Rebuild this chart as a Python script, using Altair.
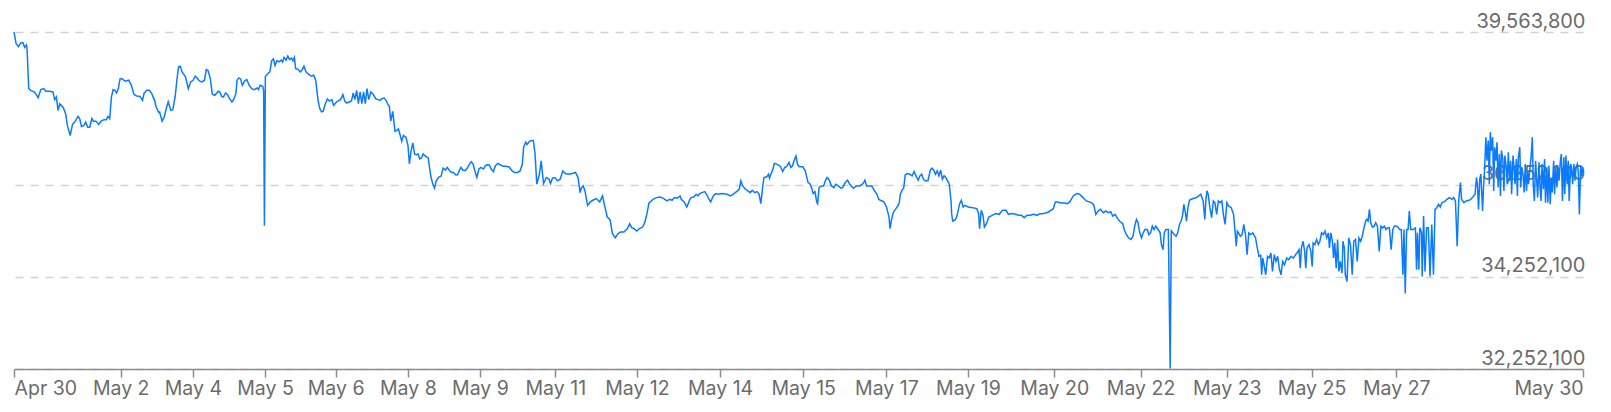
import altair as alt
import pandas as pd

# sample number along the x axis (0 = first observation, 1000 = last)
sample_index = [
    0, 1.3, 2.9, 4.4, 5.7, 6.8, 7.9, 8.3, 9.4, 11.0, 12.7, 13.8, 15.4, 17.1, 18.9, 20.4, 22.6, 24.8, 25.9, 27.0,
    28.1, 29.2, 31.4, 32.9, 34.0, 35.8, 37.3, 39.1, 40.8, 41.9, 43.0, 44.6, 45.7, 47.0, 48.3, 49.6, 50.7, 52.2, 54.0, 55.5,
    57.3, 58.8, 59.9, 61.0, 62.1, 63.2, 64.3, 65.4, 66.5, 67.6, 68.7, 70.9, 73.1, 74.8, 76.4, 78.1, 80.3, 81.9, 83.0, 84.7,
    86.3, 87.8, 89.6, 90.6, 92.2, 92.8, 94.4, 95.7, 97.2, 98.3, 99.9, 101.2, 102.7, 103.8, 104.9, 106.0, 107.1, 109.3, 111.1, 112.6,
    114.1, 115.5, 117.0, 118.1, 119.8, 121.4, 122.5, 123.6, 125.1, 126.4, 128.0, 130.2, 131.3, 132.4, 133.5, 134.8, 136.1, 137.4, 138.9, 140.0,
    141.4, 142.2, 143.3, 144.4, 145.5, 147.1, 148.4, 149.9, 151.5, 153.2, 155.0, 155.8, 156.9, 158.5, 159.1, 159.6, 160.2, 160.9, 161.9, 163.1,
    164.2, 165.3, 166.4, 167.5, 169.0, 170.3, 171.2, 172.1, 173.4, 174.5, 175.6, 176.9, 177.8, 178.7, 179.5, 181.1, 182.4, 183.5, 184.8, 186.1,
    187.7, 189.4, 191.0, 192.3, 193.8, 194.9, 196.0, 197.1, 198.2, 199.7, 201.1, 202.6, 203.7, 205.0, 206.3, 208.1, 209.6, 210.9, 212.0, 213.6,
    215.1, 216.2, 217.3, 218.4, 219.5, 220.6, 221.7, 222.8, 223.9, 225.0, 226.1, 227.4, 228.9, 230.5, 231.8, 233.3, 234.4, 236.0, 237.1, 238.4,
    239.2, 240.1, 241.4, 242.8, 243.9, 245.0, 246.0, 247.1, 248.2, 249.8, 251.1, 252.0, 253.1, 254.2, 255.3, 256.4, 257.5, 258.6, 259.7, 260.8,
    261.8, 264.0, 265.6, 266.9, 268.0, 269.1, 270.6, 272.2, 273.5, 275.0, 276.1, 277.7, 278.8, 280.1, 281.6, 282.7, 283.8, 284.9, 286.0, 287.5,
    288.9, 290.4, 291.5, 292.6, 293.7, 295.0, 296.3, 297.6, 299.2, 300.3, 301.4, 302.9, 304.2, 305.5, 306.8, 308.4, 310.1, 311.7, 313.4, 315.6,
    317.4, 318.9, 321.1, 322.6, 324.0, 324.8, 326.2, 327.0, 328.4, 329.9, 331.0, 332.1, 333.2, 334.9,
    336.0, 337.5, 339.3, 341.0, 341.9, 343.2, 344.8, 346.3, 348.1, 349.8, 351.4, 353.6, 355.8, 357.9, 359.5, 360.8, 361.7, 362.8, 363.9, 365.0,
    365.6, 367.4, 368.9, 371.1, 373.3, 375.1, 376.6, 378.1, 379.9, 381.4, 383.2, 384.9, 386.5, 388.7, 390.9, 392.4, 393.7, 395.3, 396.8, 398.6,
    400.7, 402.1, 403.4, 404.7, 405.6, 406.2, 407.3, 409.5, 411.7, 413.9, 416.1, 417.9, 419.4, 420.9, 422.7, 424.5, 425.3, 427.1, 428.8, 429.7,
    430.8, 431.5, 433.2, 434.8, 435.9, 437.0, 438.5, 440.3, 441.4, 442.4, 444.0, 445.7, 447.3, 449.0, 451.2, 454.5, 456.7, 458.9, 461.1, 462.2,
    463.3, 464.4, 466.2, 467.7, 469.2, 470.5, 472.1, 473.6, 474.9, 476.0, 477.1, 478.0, 479.8, 480.9, 481.5, 482.4, 483.7, 484.6, 486.3, 488.5,
    489.9, 491.2, 492.5, 494.0, 495.1, 496.2, 497.3, 498.4, 499.5, 500.6, 502.8, 504.3, 506.1, 507.2, 508.3, 509.4, 510.5, 511.6, 512.2, 513.1,
    514.4, 516.0, 517.1, 518.2, 519.3, 521.0, 522.6, 523.7, 525.4, 527.0, 528.1, 529.8, 531.3, 532.4, 533.5, 535.1, 536.8, 539.0, 541.2, 542.3,
    543.4, 545.2, 546.7, 548.2, 550.0, 551.1, 552.2, 554.4, 556.1, 557.7, 558.3, 559.2, 560.5, 562.1, 563.6, 564.3, 564.9, 565.8, 567.1, 568.0,
    569.3, 570.9, 572.4, 573.7, 575.2, 576.3, 577.4, 578.5, 579.6, 580.7, 582.5, 584.0, 585.1, 586.2, 587.3, 588.4, 589.5, 590.6, 591.7, 592.8,
    593.9, 595.0, 596.1, 597.2, 597.6, 598.3, 600.0, 601.1, 602.7, 603.8, 604.9, 606.0, 608.2, 611.0, 613.7, 614.8, 615.4, 616.5, 617.6, 618.5,
    619.8, 621.3, 623.5, 625.7, 627.9, 630.1, 632.3, 633.8, 636.0, 638.2, 640.4, 642.2, 643.9, 645.5, 647.7, 649.9, 652.1, 653.6, 655.4, 657.6,
    659.3, 660.8, 662.4, 663.7, 665.2, 667.4, 669.6, 671.2, 672.9, 675.1, 677.3,
    679.1, 681.3, 683.4, 686.7, 688.2, 689.5, 691.0, 692.5, 694.2, 695.9, 697.4, 699.0, 700.3, 701.8, 703.3, 705.0, 706.7, 707.6, 708.9, 710.4,
    711.9, 713.2, 714.3, 715.4, 716.4, 717.5, 718.6, 719.7, 720.8, 722.3, 723.3, 724.4, 725.5, 726.6, 727.7, 729.2, 730.5, 731.3, 732.4, 733.1,
    734.1, 735.7, 736.9, 737.6, 739.5, 740.6, 741.7, 742.8, 743.9, 744.9, 745.6, 746.4, 747.3, 748.2, 749.2, 750.3, 752.1, 753.6, 755.1, 756.4,
    757.9, 759.0, 759.6, 760.3, 761.1, 762.2, 763.3, 764.4, 765.4, 766.5, 767.6, 768.7, 769.8, 770.8, 771.9, 773.0, 774.1, 775.8, 777.3, 778.4,
    779.0, 779.7, 780.5, 781.6, 782.7, 783.8, 784.9, 785.9, 787.0, 788.1, 789.6, 791.3, 792.4, 793.5, 794.6, 795.2, 795.9, 796.7, 797.8, 798.9,
    800.0, 801.1, 802.1, 803.2, 804.3, 805.4, 806.4, 807.5, 808.6, 809.7, 811.2, 812.5, 814.0, 815.5, 816.8, 817.7, 819.0, 819.8, 820.5, 821.6,
    822.6, 823.3, 824.1, 825.4, 826.5, 827.4, 828.0, 829.1, 830.2, 831.3, 832.3, 833.4, 834.5, 835.6, 836.7, 837.7, 838.4, 839.3, 840.3, 841.0,
    841.8, 842.7, 843.6, 844.4, 845.3, 846.4, 847.0, 847.9, 848.5, 849.6, 850.7, 851.8, 852.9, 853.9, 855.0, 856.1, 857.2, 858.3, 859.3, 860.4,
    861.5, 862.1, 863.0, 863.9, 864.7, 865.8, 866.9, 867.9, 869.0, 870.1, 871.2, 872.3, 873.4, 874.4, 875.5, 876.6, 877.7, 878.8, 879.8, 880.9,
    882.0, 883.1, 884.2, 885.2, 885.9, 886.7, 887.6, 888.5, 889.3, 890.2, 891.7, 893.2, 893.9, 894.5, 895.4, 896.0, 897.1, 897.5, 898.4, 899.3,
    900.3, 901.4, 902.5, 903.6, 904.7, 905.7, 906.8, 907.9, 909.0, 910.1, 911.8, 913.3, 914.8, 916.5, 917.6, 918.7, 919.8, 920.8, 921.9, 922.6,
    924.1, 925.6, 927.3, 928.4, 929.5, 931.2, 932.1, 932.7, 933.4, 934.2, 934.9, 936.0, 936.6, 937.3, 938.1, 938.8, 939.6, 940.3, 940.9, 941.6,
    942.4, 943.1, 943.7, 944.6, 945.2, 945.9, 946.7, 947.4, 948.0, 948.9, 949.6, 950.2, 951.1, 951.7, 952.4, 953.2, 953.9, 954.5, 955.4, 956.0,
    956.7, 957.5, 958.2, 958.8, 959.7, 960.3, 961.0, 961.9, 962.5, 963.2, 964.0, 964.7, 965.3, 966.2, 967.0, 967.7, 968.3, 969.0, 969.8, 970.5,
    971.1, 972.0, 972.6, 973.3, 973.9, 974.8, 975.5, 976.1, 977.0, 977.6, 978.3, 979.1, 979.8, 980.4, 981.3, 981.9, 982.6, 983.4, 984.1, 984.7,
    985.6, 986.2, 986.9, 987.8, 988.4, 989.1, 989.9, 990.6, 991.2, 992.1, 992.7, 993.4, 994.2, 994.9, 995.5, 996.4, 997.0, 997.7, 998.5, 999.2,
    1000.0,
]

price = [
    39564000, 39317000, 39244000, 39331000, 39331000, 39230000, 39281000, 39208000, 38335000, 38285000, 38270000, 38226000, 38139000, 38314000, 38335000, 38277000, 38277000, 38263000, 38096000, 38154000,
    37863000, 38008000, 37921000, 37790000, 37536000, 37318000, 37558000, 37630000, 37732000, 37681000, 37514000, 37536000, 37608000, 37499000, 37499000, 37688000, 37630000, 37630000, 37558000, 37630000,
    37659000, 37659000, 37732000, 37681000, 38154000, 38314000, 38299000, 38241000, 38335000, 38546000, 38554000, 38495000, 38517000, 38408000, 38212000, 38176000, 38168000, 38081000, 38241000, 38299000,
    38299000, 38226000, 38081000, 37936000, 37819000, 37827000, 37630000, 37717000, 37921000, 38052000, 37863000, 37877000, 38154000, 38517000, 38808000, 38823000, 38699000, 38590000, 38335000, 38481000,
    38517000, 38604000, 38554000, 38503000, 38481000, 38517000, 38750000, 38735000, 38554000, 38212000, 38190000, 38277000, 38255000, 38168000, 38154000, 38241000, 38205000, 38117000, 38045000, 38096000,
    38226000, 38517000, 38568000, 38546000, 38408000, 38503000, 38532000, 38408000, 38335000, 38314000, 38350000, 38314000, 38408000, 38386000, 38300000, 35360000, 38600000, 38626000, 38663000, 38699000,
    38939000, 38982000, 38837000, 38939000, 38917000, 38953000, 38910000, 39012000, 38953000, 39041000, 38968000, 38997000, 38939000, 39012000, 38772000, 38750000, 38699000, 38735000, 38823000, 38699000,
    38648000, 38604000, 38626000, 38517000, 38081000, 37899000, 37834000, 37848000, 37986000, 38110000, 38066000, 38096000, 37972000, 38023000, 38066000, 38096000, 38205000, 38059000, 38023000, 38045000,
    38066000, 38241000, 38096000, 38299000, 38008000, 38263000, 38008000, 38263000, 38008000, 38335000, 38096000, 38263000, 38212000, 38117000, 38096000, 38081000, 38117000, 38132000, 38081000, 37986000,
    37950000, 37630000, 37841000, 37412000, 37427000, 37463000, 37339000, 37194000, 37318000, 37281000, 37100000, 36700000, 36990000, 37158000, 36918000, 36903000, 36918000, 36809000, 36831000, 36918000,
    36881000, 36831000, 36445000, 36263000, 36176000, 36336000, 36409000, 36438000, 36612000, 36569000, 36627000, 36554000, 36518000, 36518000, 36460000, 36467000, 36554000, 36627000, 36569000, 36554000,
    36612000, 36700000, 36751000, 36700000, 36554000, 36409000, 36591000, 36627000, 36591000, 36656000, 36685000, 36678000, 36591000, 36532000, 36663000, 36714000, 36678000, 36649000, 36649000, 36634000,
    36554000, 36518000, 36518000, 36554000, 36700000, 37063000, 37172000, 37121000, 37187000, 37209000, 37209000, 36918000, 36263000, 36482000,
    36769000, 36276000, 36406000, 36370000, 36276000, 36392000, 36406000, 36334000, 36370000, 36551000, 36493000, 36479000, 36493000, 36515000, 36406000, 36079000, 36188000, 36225000, 36116000, 35913000,
    35804000, 35877000, 35913000, 35950000, 35877000, 36007000, 35768000, 35550000, 35492000, 35187000, 35100000, 35187000, 35223000, 35223000, 35296000, 35405000, 35318000, 35296000, 35245000, 35296000,
    35332000, 35441000, 35623000, 35855000, 35877000, 35898000, 35934000, 35971000, 35985000, 35956000, 35898000, 35934000, 35913000, 35971000, 35956000, 36007000, 35934000, 35877000, 35768000, 35840000,
    35934000, 35971000, 35985000, 36043000, 36007000, 36058000, 36079000, 36101000, 36043000, 35971000, 35877000, 36007000, 36058000, 36043000, 36058000, 36043000, 36007000, 36058000, 36116000, 36152000,
    36334000, 36225000, 36152000, 36116000, 36079000, 36130000, 36079000, 36101000, 36043000, 35840000, 36188000, 36406000, 36421000, 36479000, 36392000, 36479000, 36588000, 36711000, 36697000, 36646000,
    36537000, 36624000, 36646000, 36733000, 36624000, 36660000, 36784000, 36871000, 36682000, 36639000, 36639000, 36551000, 36297000, 36276000, 36188000, 36058000, 36101000, 35877000, 35840000, 36188000,
    36225000, 36225000, 36334000, 36406000, 36370000, 36225000, 36188000, 36261000, 36225000, 36174000, 36188000, 36297000, 36348000, 36276000, 36225000, 36174000, 36225000, 36225000, 36276000, 36348000,
    36225000, 36225000, 36225000, 36130000, 36043000, 35934000, 35913000, 35877000, 35768000, 35550000, 35296000, 35477000, 35659000, 35731000, 35804000, 35877000, 36043000, 36116000, 36188000, 36464000,
    36493000, 36479000, 36443000, 36537000, 36421000, 36348000, 36443000, 36479000, 36370000, 36334000, 36334000, 36566000, 36610000, 36566000, 36479000, 36551000, 36443000, 36566000, 36370000, 36443000,
    36406000, 36334000, 36261000, 35898000, 35623000, 35463000, 35492000, 35586000, 35840000, 35913000, 35768000, 35804000, 35768000, 35753000, 35731000, 35623000, 35296000, 35695000, 35586000, 35332000,
    35405000, 35550000, 35586000, 35623000, 35608000, 35695000, 35695000, 35608000, 35623000, 35608000, 35586000, 35586000, 35535000, 35586000, 35586000, 35608000, 35586000, 35623000, 35623000, 35637000,
    35659000, 35695000, 35731000, 35877000, 35877000, 35855000, 35855000, 35840000, 35877000, 36007000, 36058000,
    36044000, 35971000, 35898000, 35862000, 35811000, 35607000, 35680000, 35716000, 35643000, 35680000, 35643000, 35665000, 35570000, 35607000, 35519000, 35446000, 35403000, 35279000, 35170000, 35097000,
    35061000, 35133000, 35352000, 35498000, 35425000, 35206000, 35097000, 35206000, 35279000, 35279000, 35170000, 35206000, 35352000, 35279000, 35352000, 35279000, 35206000, 34951000, 34842000, 35206000,
    35279000, 35279000, 32262000, 35250000, 35170000, 35133000, 35206000, 35388000, 35461000, 35607000, 35825000, 35680000, 35461000, 35752000, 35912000, 35934000, 35956000, 35971000, 36007000, 36044000,
    35898000, 35498000, 35898000, 36117000, 36044000, 35752000, 35534000, 35898000, 35862000, 35607000, 35898000, 35862000, 35898000, 35607000, 35388000, 35862000, 35789000, 35752000, 35607000, 35170000,
    34915000, 35243000, 35206000, 35133000, 35170000, 35388000, 35170000, 34733000, 35206000, 35170000, 35206000, 35097000, 34878000, 34696000, 34718000, 34296000, 34660000, 34514000, 34296000, 34696000,
    34660000, 34769000, 34368000, 34733000, 34587000, 34696000, 34441000, 34296000, 34587000, 34514000, 34660000, 34623000, 34696000, 34660000, 34733000, 34769000, 34842000, 34441000, 34878000, 35024000,
    34805000, 34441000, 34878000, 34951000, 34805000, 34478000, 34988000, 34951000, 35061000, 34951000, 35024000, 35206000, 35170000, 35243000, 35097000, 35206000, 34878000, 35206000, 35024000, 34660000,
    34988000, 34441000, 35061000, 34368000, 34587000, 34332000, 35024000, 34878000, 34296000, 34150000, 35097000, 34951000, 34296000, 35024000, 35061000, 34587000, 35097000, 35024000, 35133000, 35315000,
    35461000, 35498000, 35461000, 35716000, 35425000, 35330000, 35352000, 35425000, 35352000, 34805000, 35352000, 35315000, 35352000, 35279000, 35315000, 35315000, 34842000, 35279000, 35352000, 35352000,
    35330000, 35279000, 35279000, 34296000, 35279000, 33895000, 35279000, 35279000, 35680000, 35279000, 35279000, 35315000, 34405000, 35206000, 34405000, 35315000, 35206000, 34259000, 35570000, 34368000,
    35315000, 35315000, 34259000, 35388000, 34296000, 35716000, 35752000, 35825000, 35767000, 35862000, 35883000, 35934000, 35971000, 35934000, 35971000, 35898000, 34915000, 35912000, 36299000, 35934000,
    35862000, 35898000, 35912000, 35934000, 35971000, 36044000, 36408000, 36262000, 35716000, 36372000, 36481000, 35680000, 36190000, 36590000, 37282000, 36772000, 37209000, 36262000, 37391000, 36991000,
    37282000, 36117000, 37064000, 36772000, 37173000, 36190000, 36918000, 36007000, 36991000, 36809000, 36117000, 36882000, 36627000, 36262000, 36955000, 36335000, 36772000, 36044000, 36882000, 36627000,
    36262000, 36809000, 36007000, 36845000, 37064000, 36190000, 36627000, 36444000, 36080000, 36700000, 36117000, 36554000, 36262000, 36627000, 36882000, 37282000, 36262000, 35898000, 36772000, 36335000,
    35971000, 36736000, 36190000, 35898000, 36700000, 36153000, 36809000, 35862000, 36627000, 35862000, 36663000, 35825000, 36408000, 36080000, 36772000, 36044000, 36663000, 36190000, 36627000, 36335000,
    36772000, 36918000, 35898000, 36845000, 36044000, 36882000, 36262000, 36772000, 35898000, 36700000, 36627000, 36262000, 36700000, 36335000, 36627000, 36700000, 36517000, 35607000, 36663000, 36444000,
    36627000,
]

tick_index = [0, 68, 114, 160, 205, 251, 297, 345, 397, 450, 503, 556, 608, 663, 718, 773, 827, 881, 1000]
tick_labels = ["Apr 30", "May 2", "May 4", "May 5", "May 6", "May 8", "May 9", "May 11", "May 12",
               "May 14", "May 15", "May 17", "May 19", "May 20", "May 22", "May 23", "May 25", "May 27", "May 30"]
y_ticks = [32252100, 34252100, 36252100, 39563800]

n = min(len(sample_index), len(price))
df = pd.DataFrame({"idx": sample_index[:n], "price": price[:n]})

label_expr = (
    "[" + ",".join("'" + s + "'" for s in tick_labels) + "]"
    + "[indexof([" + ",".join(str(v) for v in tick_index) + "], datum.value)]"
)

FONT = "Inter"
LABEL_COLOR = "#6b6b6b"

chart = (
    alt.Chart(df)
    .mark_line(color="#0a7aff", strokeWidth=1.5)
    .encode(
        x=alt.X(
            "idx:Q",
            scale=alt.Scale(domain=[0, 1000], nice=False, zero=False),
            axis=alt.Axis(
                title=None,
                values=tick_index,
                labelExpr=label_expr,
                grid=False,
                domainColor="#8c8c8c",
                domainWidth=1.5,
                tickColor="#8c8c8c",
                tickWidth=1.5,
                tickSize=8,
                labelFont=FONT,
                labelFontSize=19.5,
                labelColor=LABEL_COLOR,
                labelFlush=True,
                labelPadding=2,
                labelOverlap=False,
            ),
        ),
        y=alt.Y(
            "price:Q",
            scale=alt.Scale(domain=[32252100, 39563800], nice=False, zero=False),
            axis=alt.Axis(
                title=None,
                orient="right",
                values=y_ticks,
                format=",d",
                domain=False,
                ticks=False,
                tickSize=0,
                grid=True,
                gridColor="#d2d2d2",
                gridDash=[8, 7],
                gridWidth=1.5,
                labelAlign="right",
                labelBaseline="alphabetic",
                labelOffset=-5,
                labelPadding=2,
                labelFont=FONT,
                labelFontSize=20,
                labelColor=LABEL_COLOR,
                labelFlush=False,
                labelOverlap=False,
                labelBound=False,
            ),
        ),
    )
    .properties(
        width=1569,
        height=337,
        autosize="none",
        padding={"left": 6, "top": 24, "right": 20, "bottom": 30},
    )
    .configure_view(stroke=None)
)

chart.save("out.html", embed_options={"renderer": "svg", "actions": False})
